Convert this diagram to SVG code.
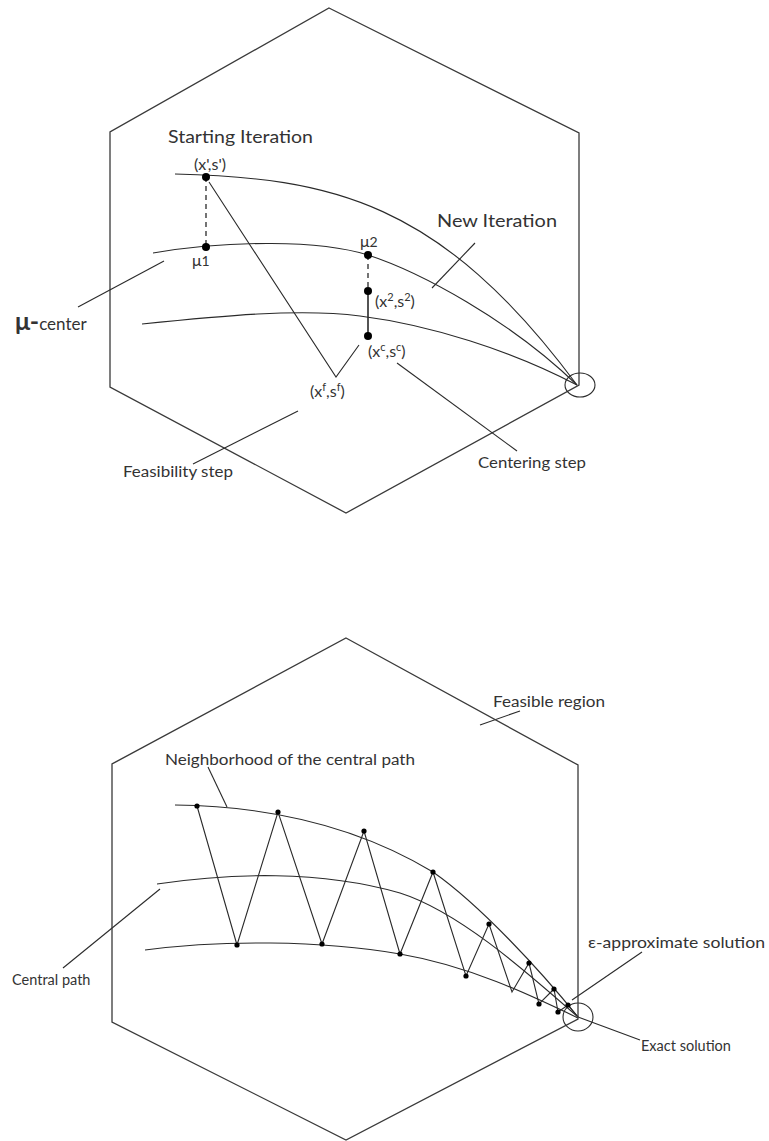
<svg xmlns="http://www.w3.org/2000/svg" width="769" height="1141" viewBox="0 0 769 1141">
<style>
.hex{fill:none;stroke:#3a3a3a;stroke-width:1.3}
.ln{fill:none;stroke:#2a2a2a;stroke-width:1.1}
.dash{fill:none;stroke:#2a2a2a;stroke-width:1.3;stroke-dasharray:5,4}
.dot{fill:#000}
.t{font-family:Lato,"Open Sans","Liberation Sans",sans-serif;fill:#333}
</style>
<rect width="769" height="1141" fill="#fff"/>
<g id="top-region">
<polygon class="hex" points="329,8 579,133 579,385 346,513 110,387 110,132"/>
</g>
<g id="connectors">
<path class="ln" d="M175,174 C330,178 440,200 577,385"/>
<path class="ln" d="M153,253 C230,240 320,240 368,255 C420,272 510,320 577,385"/>
<path class="ln" d="M142,324 C220,316 300,308 360,316 C430,325 510,350 577,385"/>
<line class="dash" x1="206" y1="177" x2="206" y2="247"/>
<line class="dash" x1="368" y1="255" x2="368" y2="291"/>
<line class="ln" x1="368" y1="291" x2="368" y2="336" style="stroke-width:1.6"/>
<polyline class="ln" points="209,182 336,377 359,345"/>
<ellipse class="ln" cx="580" cy="385" rx="15" ry="12"/>
<line class="ln" x1="78" y1="307" x2="164" y2="261"/>
<line class="ln" x1="475" y1="243" x2="432" y2="288"/>
<line class="ln" x1="193" y1="464" x2="298" y2="411"/>
<line class="ln" x1="397" y1="363" x2="517" y2="451"/>
<path class="ln" d="M175,805 C260,806 350,822 433,872 C480,905 540,970 578,1017"/>
<path class="ln" d="M157,884 C230,873 320,870 400,893 C460,912 530,975 578,1017"/>
<path class="ln" d="M145,950 C220,940 320,940 400,954 C470,966 530,995 578,1018"/>
<polyline class="ln" points="197,806 237,945 278,812 322,944 364,831 400,954 433,872 466,976 489,924 512,992 529,963 539,1004 554,989 558,1012 568,1005 578,1017"/>
<ellipse class="ln" cx="578" cy="1017" rx="15" ry="14"/>
<line class="ln" x1="578" y1="1017" x2="640" y2="1040"/>
<line class="ln" x1="572" y1="1000" x2="642" y2="952"/>
<line class="ln" x1="480" y1="725" x2="520" y2="711"/>
<line class="ln" x1="208" y1="767" x2="227" y2="807"/>
<line class="ln" x1="160" y1="889" x2="63" y2="968"/>
</g>
<g id="bottom-region">
<polygon class="hex" points="346,638 578,765 578,1019 346,1140 112,1022 112,764"/>
</g>
<g id="dots-top">
<circle class="dot" cx="206" cy="177" r="4"/>
<circle class="dot" cx="206" cy="247" r="4"/>
<circle class="dot" cx="368" cy="255" r="4"/>
<circle class="dot" cx="368" cy="291" r="4"/>
<circle class="dot" cx="368" cy="336" r="4"/>
</g>
<g id="dots-bottom">
<circle class="dot" cx="197" cy="806" r="2.6"/>
<circle class="dot" cx="278" cy="812" r="2.6"/>
<circle class="dot" cx="364" cy="831" r="2.6"/>
<circle class="dot" cx="433" cy="872" r="2.6"/>
<circle class="dot" cx="489" cy="924" r="2.6"/>
<circle class="dot" cx="529" cy="963" r="2.6"/>
<circle class="dot" cx="554" cy="989" r="2.6"/>
<circle class="dot" cx="568" cy="1005" r="2.6"/>
<circle class="dot" cx="237" cy="945" r="2.6"/>
<circle class="dot" cx="322" cy="944" r="2.6"/>
<circle class="dot" cx="400" cy="954" r="2.6"/>
<circle class="dot" cx="466" cy="976" r="2.6"/>
<circle class="dot" cx="539" cy="1004" r="2.6"/>
<circle class="dot" cx="558" cy="1012" r="2.6"/>
</g>
<g id="label-starting"><text class="t" x="168" y="143" font-size="17" textLength="145" lengthAdjust="spacingAndGlyphs">Starting Iteration</text></g>
<g id="label-x1"><text class="t" x="194" y="170" font-size="16">(x',s')</text></g>
<g id="label-mu1"><text class="t" x="192" y="266" font-size="16">μ<tspan font-size="14">1</tspan></text></g>
<g id="label-mu2"><text class="t" x="360" y="247" font-size="16">μ<tspan font-size="14">2</tspan></text></g>
<g id="label-new"><text class="t" x="437" y="227" font-size="17" textLength="120" lengthAdjust="spacingAndGlyphs">New Iteration</text></g>
<g id="label-x2"><text class="t" x="375" y="307" font-size="16">(x<tspan font-size="11" dy="-6">2</tspan><tspan dy="6">,s</tspan><tspan font-size="11" dy="-6">2</tspan><tspan dy="6">)</tspan></text></g>
<g id="label-xc"><text class="t" x="368" y="357" font-size="16">(x<tspan font-size="11" dy="-6">c</tspan><tspan dy="6">,s</tspan><tspan font-size="11" dy="-6">c</tspan><tspan dy="6">)</tspan></text></g>
<g id="label-xf"><text class="t" x="310" y="397" font-size="16">(x<tspan font-size="11" dy="-6">f</tspan><tspan dy="6">,s</tspan><tspan font-size="11" dy="-6">f</tspan><tspan dy="6">)</tspan></text></g>
<g id="label-mucenter"><text class="t" x="15" y="330" font-size="17"><tspan font-size="25" font-weight="bold">μ-</tspan>center</text></g>
<g id="label-feas"><text class="t" x="123" y="477" font-size="14.5" textLength="110" lengthAdjust="spacingAndGlyphs">Feasibility step</text></g>
<g id="label-cent"><text class="t" x="478" y="468" font-size="14.5" textLength="108" lengthAdjust="spacingAndGlyphs">Centering step</text></g>
<g id="label-region"><text class="t" x="493" y="707" font-size="14.5" textLength="112" lengthAdjust="spacingAndGlyphs">Feasible region</text></g>
<g id="label-neigh"><text class="t" x="165" y="765" font-size="14.5" textLength="250" lengthAdjust="spacingAndGlyphs">Neighborhood of the central path</text></g>
<g id="label-eps"><text class="t" x="588" y="948" font-size="15" textLength="177" lengthAdjust="spacingAndGlyphs">ε-approximate solution</text></g>
<g id="label-central"><text class="t" x="12" y="985" font-size="14.5">Central path</text></g>
<g id="label-exact"><text class="t" x="641" y="1051" font-size="14.5">Exact solution</text></g>
</svg>
